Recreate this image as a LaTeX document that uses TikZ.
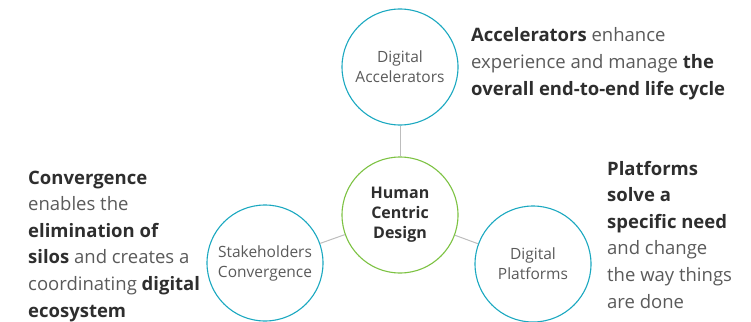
\documentclass[tikz,border=0pt]{standalone}
\usepackage{fontspec}
\setmainfont{Open Sans}
\definecolor{teal1}{HTML}{1AA8C0}
\definecolor{green1}{HTML}{7CC242}
\definecolor{txtgray}{HTML}{5A5A5A}
\definecolor{txtdark}{HTML}{2E2E2E}
\definecolor{linegray}{HTML}{BDBDBD}
\tikzset{
  hub/.style={circle, draw=#1, line width=1.1pt, minimum size=116pt, inner sep=0pt, align=center},
  circtext/.style={font=\fontsize{15.5}{20}\selectfont, text=txtgray},
  centertext/.style={font=\fontsize{16}{20}\selectfont\bfseries, text=txtdark},
  desc/.style={anchor=base west, inner sep=0pt, align=left, text=txtgray, font=\fontsize{18.5}{26.6}\selectfont},
  conn/.style={draw=linegray, line width=1pt}
}
\newcommand{\bd}[1]{{\bfseries\color{txtdark}#1}}
\begin{document}
\begin{tikzpicture}[x=1pt,y=-1pt]
\useasboundingbox (0,0) rectangle (751,321);
\node[hub=teal1, circtext] (acc) at (400,67) {Digital\\Accelerators};
\node[hub=green1, centertext] (hcd) at (400,215) {Human\\Centric\\Design};
\node[hub=teal1, circtext] (stk) at (265,263) {Stakeholders\\Convergence};
\node[hub=teal1, circtext] (plt) at (533,264) {Digital\\Platforms};
\draw[conn] (acc) -- (hcd);
\draw[conn] (hcd) -- (stk);
\draw[conn] (hcd) -- (plt);
\node[desc] (tacc) at (471,95) {\bd{Accelerators} enhance\\experience and manage \bd{the}\\\bd{overall end-to-end life cycle}};
\node[desc] (tstk) at (28,317) {\bd{Convergence}\\enables the\\\bd{elimination of}\\\bd{silos} and creates a\\coordinating \bd{digital}\\\bd{ecosystem}};
\node[desc] (tplt) at (607,308) {\bd{Platforms}\\\bd{solve a}\\\bd{specific need}\\and change\\the way things\\are done};
\end{tikzpicture}
\end{document}
